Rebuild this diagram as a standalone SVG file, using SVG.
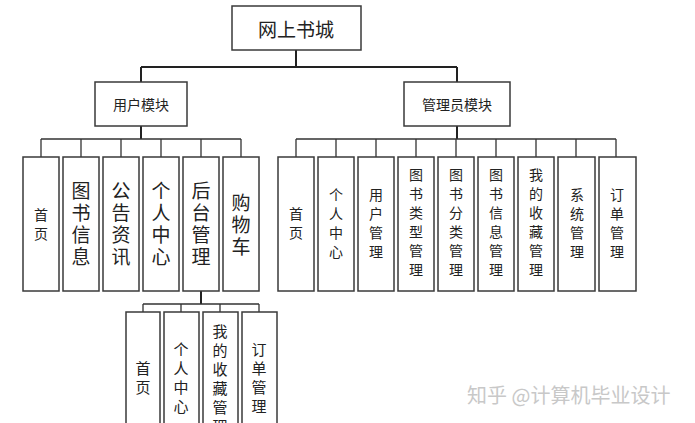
<svg xmlns="http://www.w3.org/2000/svg" width="695" height="423" viewBox="0 0 695 423">
<style>
.box{fill:#fff;stroke:#3a3a3a;stroke-width:1.5}
.t{font-family:"Noto Sans CJK SC","Liberation Sans",sans-serif;fill:#222;text-anchor:middle;dominant-baseline:central}
.v{font-family:"Noto Sans CJK SC","Liberation Sans",sans-serif;fill:#222;text-anchor:middle;writing-mode:vertical-rl;text-orientation:upright;dominant-baseline:central}
.L{font-size:19px;letter-spacing:3px}
.S{font-size:14px;letter-spacing:5px}
.B{font-size:15px;letter-spacing:4px}
.c{fill:none;stroke:#222;stroke-width:2}
.c1{fill:none;stroke:#333;stroke-width:1.3}
.wm{font-family:"Noto Sans CJK SC","Liberation Sans",sans-serif;fill:#c8c8c8;font-size:20px}
</style>
<rect width="695" height="423" fill="#fff"/>
<g id="connectors">
<path class="c" d="M296,50V67M141,67H457M141,67V82M457,67V82M141,126V139M457,126V139M201,291V304"/>
<path class="c1" d="M41,139H241M41,139V157M81,139V157M121,139V157M161,139V157M201,139V157M241,139V157"/>
<path class="c1" d="M296,139H616M296,139V157M336,139V157M376,139V157M416,139V157M456,139V157M496,139V157M536,139V157M576,139V157M616,139V157"/>
<path class="c1" d="M143,304H259M143,304V312M181,304V312M220,304V312M259,304V312"/>
</g>
<g id="root"><rect class="box" x="232" y="6" width="129" height="44"/><text class="t" x="296" y="28" font-size="19">网上书城</text></g>
<g id="user"><rect class="box" x="95" y="82" width="92" height="44"/><text class="t" x="141" y="104" font-size="14">用户模块</text></g>
<g id="admin"><rect class="box" x="404" y="82" width="106" height="44"/><text class="t" x="457" y="104" font-size="14">管理员模块</text></g>

<g id="u1"><rect class="box" x="23" y="157" width="36" height="134"/><text class="v S" x="41" y="227">首页</text></g>
<g id="u2"><rect class="box" x="63" y="157" width="36" height="134"/><text class="v L" x="81" y="225">图书信息</text></g>
<g id="u3"><rect class="box" x="103" y="157" width="36" height="134"/><text class="v L" x="121" y="225">公告资讯</text></g>
<g id="u4"><rect class="box" x="143" y="157" width="36" height="134"/><text class="v L" x="161" y="225">个人中心</text></g>
<g id="u5"><rect class="box" x="183" y="157" width="36" height="134"/><text class="v L" x="201" y="225">后台管理</text></g>
<g id="u6"><rect class="box" x="223" y="157" width="36" height="134"/><text class="v L" x="241" y="226">购物车</text></g>

<g id="a1"><rect class="box" x="278" y="157" width="36" height="134"/><text class="v S" x="296" y="226">首页</text></g>
<g id="a2"><rect class="box" x="318" y="157" width="36" height="134"/><text class="v S" x="336" y="226">个人中心</text></g>
<g id="a3"><rect class="box" x="358" y="157" width="36" height="134"/><text class="v S" x="376" y="226">用户管理</text></g>
<g id="a4"><rect class="box" x="398" y="157" width="36" height="134"/><text class="v S" x="416" y="225">图书类型管理</text></g>
<g id="a5"><rect class="box" x="438" y="157" width="36" height="134"/><text class="v S" x="456" y="225">图书分类管理</text></g>
<g id="a6"><rect class="box" x="478" y="157" width="36" height="134"/><text class="v S" x="496" y="225">图书信息管理</text></g>
<g id="a7"><rect class="box" x="518" y="157" width="36" height="134"/><text class="v S" x="536" y="225">我的收藏管理</text></g>
<g id="a8"><rect class="box" x="558" y="157" width="37" height="134"/><text class="v S" x="577" y="226">系统管理</text></g>
<g id="a9"><rect class="box" x="599" y="157" width="37" height="134"/><text class="v S" x="617" y="226">订单管理</text></g>

<g id="b1"><rect class="box" x="126" y="312" width="34" height="120"/><text class="v B" x="143" y="380">首页</text></g>
<g id="b2"><rect class="box" x="164" y="312" width="35" height="120"/><text class="v B" x="181" y="380">个人中心</text></g>
<g id="b3"><rect class="box" x="203" y="312" width="35" height="120"/><text class="v B" x="220" y="381">我的收藏管理</text></g>
<g id="b4"><rect class="box" x="242" y="312" width="35" height="120"/><text class="v B" x="259" y="380">订单管理</text></g>

<text class="wm" x="467" y="403">知乎 @计算机毕业设计</text>
</svg>
